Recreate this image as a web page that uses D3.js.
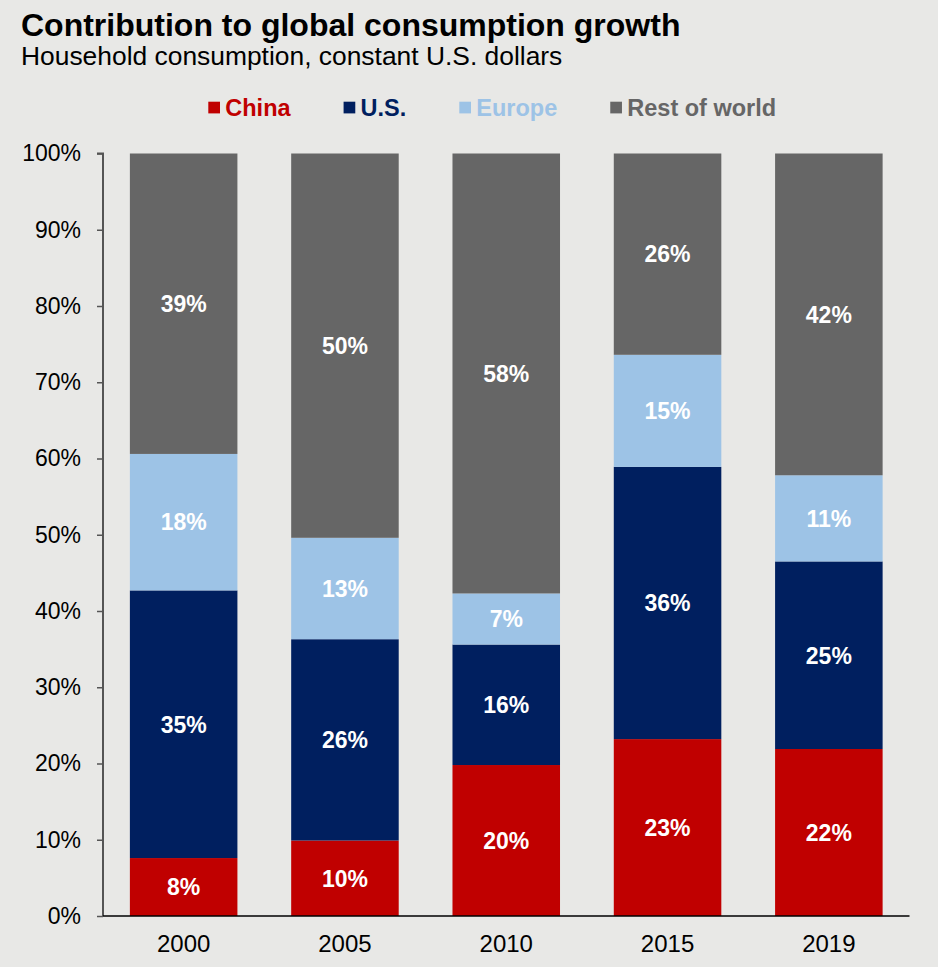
<!DOCTYPE html>
<html><head><meta charset="utf-8">
<script src="https://cdn.jsdelivr.net/npm/d3@7"></script>
<style>
html,body{margin:0;padding:0;background:#e8e8e6;}
svg{display:block;font-family:"Liberation Sans",Arial,sans-serif;}
</style></head>
<body><svg id="c" width="938" height="967"></svg>
<script>
const years = ["2000","2005","2010","2015","2019"];
const seriesNames = ["China","U.S.","Europe","Rest of world"];
const china = [7.6, 9.9, 19.8, 23.2, 21.9];
const us = [35.1, 26.4, 15.8, 35.7, 24.6];
const europe = [17.9, 13.3, 6.7, 14.7, 11.3];
const rest = [39.4, 50.4, 57.7, 26.4, 42.2];
const yTicks = [0,10,20,30,40,50,60,70,80,90,100];
const colors = ["#c00000","#001f5f","#9dc3e6","#666666"];
const legendTextColors = ["#c00000","#001f5f","#9dc3e6","#666666"];

(function(){
const svg = d3.select("#c");
const W = 938, H = 967;
svg.append("rect").attr("width",W).attr("height",H).attr("fill","#e8e8e6");

const pL = 103, pR = 909.5, pT = 153.5, pB = 916;
const x = d3.scaleBand().domain(years).range([pL,pR]).paddingInner(1/3).paddingOuter(1/6);
const y = d3.scaleLinear().domain([0,100]).range([pB,pT]);

const rows = years.map((yr,i)=>({year:yr, "China":china[i], "U.S.":us[i], "Europe":europe[i], "Rest of world":rest[i]}));
const stack = d3.stack().keys(seriesNames)(rows);

// title
svg.append("text").attr("x",21).attr("y",36).attr("font-size",32).attr("font-weight","bold").attr("fill","#000")
  .text("Contribution to global consumption growth");
svg.append("text").attr("x",21).attr("y",65).attr("font-size",26.4).attr("fill","#000")
  .text("Household consumption, constant U.S. dollars");

// legend
let lx = 208.3;
seriesNames.forEach((s,i)=>{
  const g = svg.append("g");
  g.append("rect").attr("x",lx).attr("y",101.7).attr("width",11.7).attr("height",11.7).attr("fill",colors[i]);
  const t = g.append("text").attr("x",lx+17).attr("y",115.7).attr("font-size",23.5).attr("font-weight","bold")
    .attr("fill",legendTextColors[i]).text(s);
  lx += 17 + t.node().getComputedTextLength() + 53;
});

// bars
const layers = svg.append("g").selectAll("g").data(stack).join("g").attr("fill",(d,i)=>colors[i]);
layers.selectAll("rect").data(d=>d).join("rect")
  .attr("x",d=>x(d.data.year)).attr("width",x.bandwidth())
  .attr("y",d=>y(d[1])).attr("height",d=>y(d[0])-y(d[1]));

// labels
const lab = svg.append("g");
stack.forEach(layer=>{
  layer.forEach(d=>{
    lab.append("text").attr("x",x(d.data.year)+x.bandwidth()/2).attr("y",(y(d[0])+y(d[1]))/2)
      .attr("text-anchor","middle").attr("dy","0.36em").attr("font-size",23).attr("font-weight","bold")
      .attr("fill","#fff").text(Math.round(d[1]-d[0])+"%");
  });
});

// y axis
const ya = svg.append("g").attr("transform",`translate(${pL},0)`)
  .call(d3.axisLeft(y).tickValues(yTicks).tickSize(6).tickPadding(16).tickFormat(d=>d+"%"));
ya.select(".domain").attr("stroke","#555").attr("stroke-width",2).attr("d",`M-6,${pT}H0V${pB}`);
ya.selectAll(".tick line").attr("stroke","#555").attr("stroke-width",1.5);
ya.selectAll(".tick text").attr("font-size",23).attr("fill","#000").attr("font-family","Liberation Sans, Arial, sans-serif");

// x axis
const xa = svg.append("g").attr("transform",`translate(0,${pB})`)
  .call(d3.axisBottom(x).tickSize(0).tickPadding(19));
xa.select(".domain").attr("stroke","#000").attr("stroke-width",1.5).attr("d",`M${pL},0H${pR}`);
xa.selectAll(".tick text").attr("font-size",24).attr("fill","#000").attr("font-family","Liberation Sans, Arial, sans-serif");
})();
</script></body></html>
